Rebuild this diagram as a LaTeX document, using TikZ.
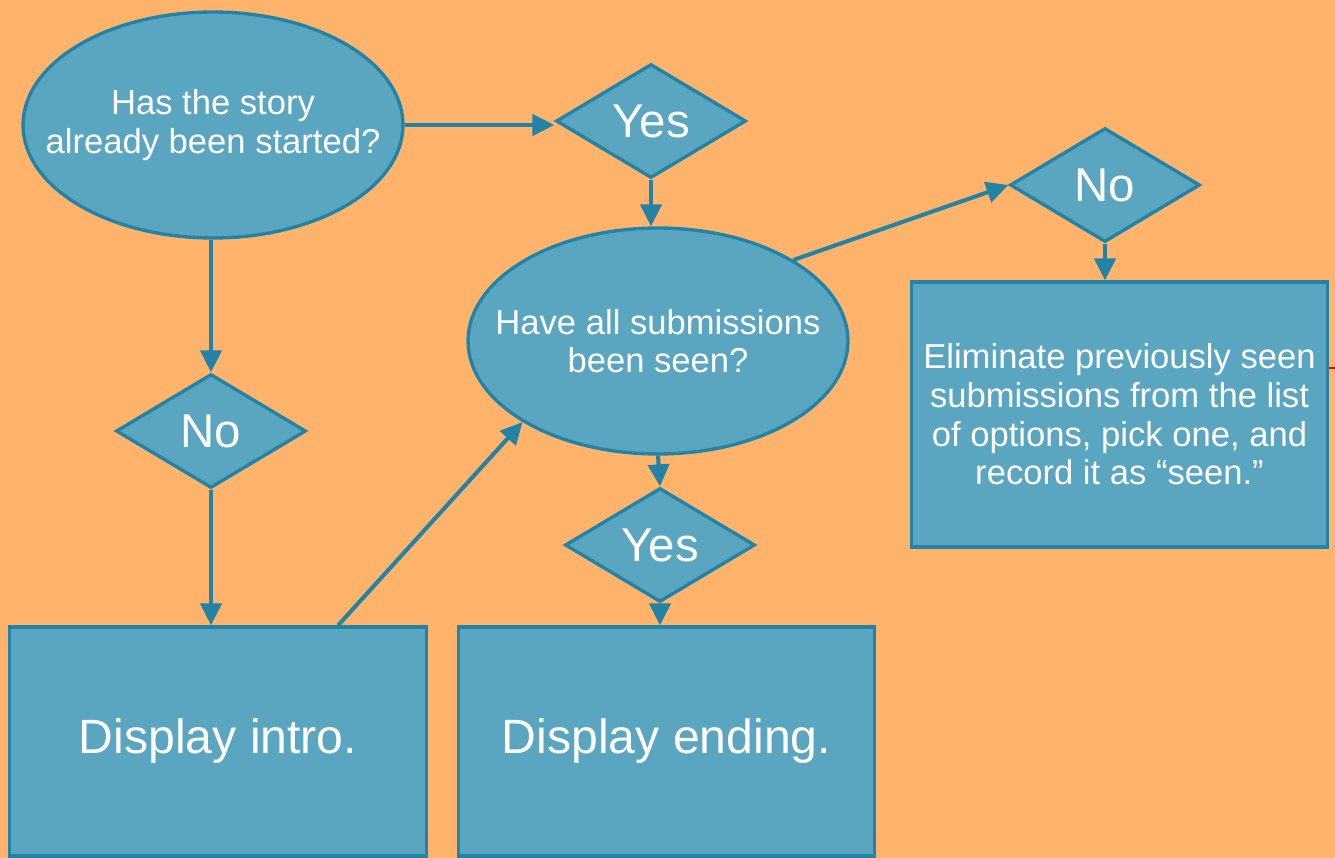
\documentclass[tikz,border=0pt]{standalone}
\usepackage{fontspec}
\setmainfont{Liberation Sans}
\usetikzlibrary{shapes.geometric,arrows.meta}
\definecolor{bgc}{HTML}{FFB36B}
\definecolor{fillc}{HTML}{5AA5C0}
\definecolor{linec}{HTML}{2383A6}
\begin{document}
\begin{tikzpicture}[x=0.02cm,y=-0.02cm,
  shapebase/.style={draw=linec,fill=fillc,line width=1.9pt,text=white,inner sep=0pt,align=center},
  question/.style={shapebase,ellipse,inner xsep=-28pt,inner ysep=0pt,minimum width=7.6cm,minimum height=4.52cm,font=\fontsize{19.7}{22}\selectfont},
  answer/.style={shapebase,diamond,minimum width=3.8cm,minimum height=2.28cm,font=\fontsize{27}{30}\selectfont},
  actionbox/.style={shapebase,rectangle,minimum width=8.33cm,font=\fontsize{27.4}{30}\selectfont},
  arrowline/.style={draw=linec,line width=2.3pt,-{Triangle[length=12.5pt,width=12pt]}}]
\fill[bgc] (0,0) rectangle (1335,858);
\useasboundingbox (0,0) rectangle (1335,858);

\node[question] (e1) at (213,125) {Has the story\\already been started?};
\node[answer] (y1) at (651,121) {Yes};
\node[question] (e2) at (658,341) {Have all submissions\\been seen?};
\node[answer] (n2) at (1105,185) {No};
\node[actionbox,minimum height=5.3cm,font=\fontsize{19.7}{22}\selectfont] (r) at (1119.5,414.5)
  {Eliminate previously seen\\submissions from the list\\of options, pick one, and\\record it as “seen.”};
\node[answer] (n1) at (211,431) {No};
\node[answer] (y2) at (660,545) {Yes};
\node[actionbox,minimum height=4.58cm] (intro) at (218,741.5) {Display intro.};
\node[actionbox,minimum height=4.58cm] (ending) at (666.5,741.5) {Display ending.};

\path (intro.north west) ++(330,0) coordinate (introout);
\coordinate (redend) at (1335,368);

\draw[arrowline] (e1.east) -- (e1.east -| y1.west);
\draw[arrowline] (y1.south) -- (y1.south |- e2.north);
\draw[arrowline] (n1.north |- e1.south) -- (n1.north);
\draw[arrowline] (n1.south) -- (n1.south |- intro.north);
\draw[arrowline] (introout) -- (e2.south west);
\draw[arrowline] (e2.south) -- (y2.north);
\draw[arrowline] (y2.south) -- (y2.south |- ending.north);
\draw[arrowline] (e2.north east) -- (n2.west);
\draw[arrowline] (n2.south) -- (n2.south |- r.north);
\draw[red,line width=1.2pt] (r.east |- redend) -- (redend);
\end{tikzpicture}
\end{document}
